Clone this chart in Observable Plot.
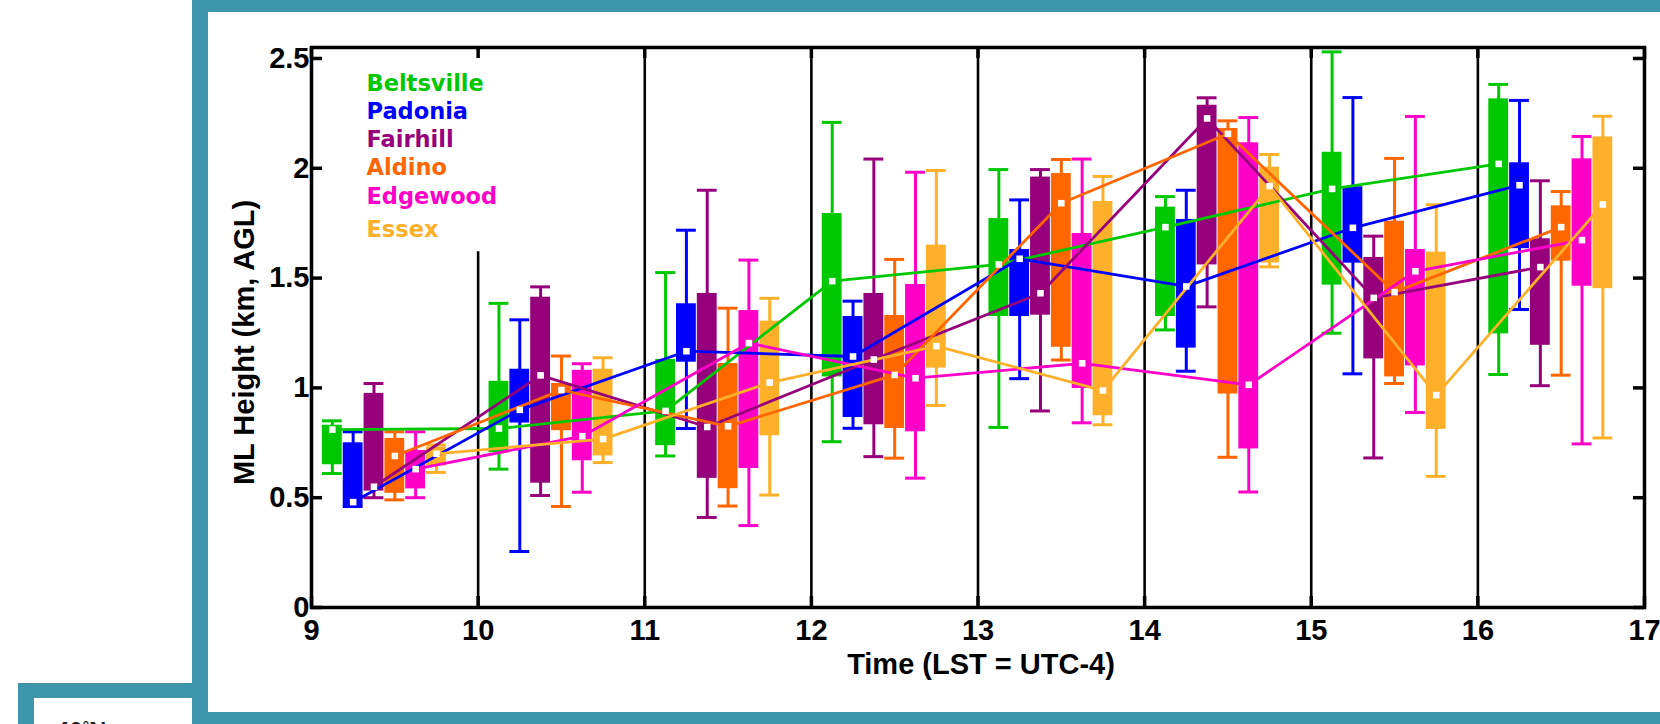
<!DOCTYPE html>
<html><head><meta charset="utf-8">
<script src="https://cdn.jsdelivr.net/npm/d3@7"></script>
<script src="https://cdn.jsdelivr.net/npm/@observablehq/plot@0.6"></script>
<style>
html,body{margin:0;padding:0;background:#fff;overflow:hidden;}
#wrap{position:relative;width:1660px;height:724px;overflow:hidden;}
.teal{position:absolute;background:#3e96ac;}
#lat{position:absolute;left:56px;top:719px;font:bold 24px 'Liberation Sans',Arial,sans-serif;line-height:1;color:#222;white-space:nowrap;}
#lat span{position:relative;top:-6px;font-size:16px;}
</style></head><body>
<div id="wrap"></div>
<script>
// ---- data ----
const sites = ["Beltsville","Padonia","Fairhill","Aldino","Edgewood","Essex"];
const siteColors = ["#00c800","#0000ff","#96007a","#ff6600","#ff00c8","#ffb02a"];
const hours = [9,10,11,12,13,14,15,16];
const xTicks = [9,10,11,12,13,14,15,16,17];
const yTicks = [0,0.5,1,1.5,2,2.5];
const dividers = [10,11,12,13,14,15,16];
const legendBottom = 1.62; // hour-10 divider stops under the legend

// rows = sites, columns = hours 9..16 (km AGL)
const whiskerLow = [
  [0.61,0.63,0.69,0.755,0.82,1.264,1.249,1.061],
  [0.46,0.255,0.815,0.816,1.042,1.076,1.064,1.357],
  [0.50,0.51,0.41,0.687,0.895,1.369,0.681,1.01],
  [0.49,0.46,0.462,0.68,1.127,0.684,1.02,1.058],
  [0.50,0.525,0.373,0.589,0.841,0.526,0.888,0.745],
  [0.615,0.66,0.512,0.92,0.832,1.551,0.597,0.772]
];
const quartile1 = [
  [0.65,0.705,0.737,1.05,1.325,1.325,1.468,1.246],
  [0.46,0.84,1.117,0.865,1.325,1.181,1.568,1.634],
  [0.53,0.566,0.588,0.832,1.331,1.56,1.132,1.194],
  [0.52,0.805,0.541,0.815,1.185,0.972,1.05,1.577],
  [0.54,0.668,0.633,0.80,0.997,0.722,1.10,1.463],
  [0.645,0.69,0.782,1.09,0.873,1.569,0.811,1.452]
];
const medians = [
  [0.81,0.815,0.895,1.486,1.562,1.732,1.906,2.02],
  [0.48,0.90,1.167,1.143,1.588,1.462,1.729,1.923],
  [0.55,1.057,0.822,1.129,1.431,2.227,1.41,1.55],
  [0.69,0.99,0.825,1.059,1.841,2.157,1.436,1.732],
  [0.63,0.78,1.204,1.044,1.112,1.014,1.531,1.673],
  [0.70,0.767,1.024,1.19,0.988,1.919,0.967,1.835]
];
const quartile3 = [
  [0.83,1.03,1.13,1.794,1.771,1.823,2.073,2.316],
  [0.75,1.085,1.383,1.325,1.63,1.767,1.916,2.025],
  [0.975,1.413,1.43,1.43,1.96,2.287,1.594,1.679],
  [0.77,1.02,1.111,1.33,1.976,2.181,1.759,1.829],
  [0.715,1.08,1.352,1.471,1.703,2.116,1.63,2.043],
  [0.73,1.085,1.304,1.65,1.849,2.005,1.618,2.143]
];
const whiskerHigh = [
  [0.85,1.385,1.525,2.209,1.994,1.871,2.53,2.382],
  [0.80,1.31,1.718,1.395,1.856,1.90,2.322,2.309],
  [1.02,1.46,1.90,2.042,1.994,2.321,1.691,1.943],
  [0.80,1.145,1.363,1.585,2.04,2.216,2.045,1.894],
  [0.80,1.11,1.582,1.982,2.042,2.231,2.236,2.145],
  [0.74,1.137,1.408,1.99,1.963,2.063,1.834,2.237]
];

// ---- layout constants ----
const slot = 0.125;       // hour fraction between adjacent site boxes
const half = slot / 2;
const W = 1660, H = 724;
const mL = 311, mR = 16, mT = 47, mB = 117;
const plotW = W - mL - mR, plotH = H - mT - mB;
const tickLen = 11;
const axisFont = "'Liberation Sans', Arial, Helvetica, sans-serif";

const rows = [];
sites.forEach((s, i) => hours.forEach((h, j) => rows.push({
  site: s, x: h + slot * (i + 1),
  lo: whiskerLow[i][j], q1: quartile1[i][j], med: medians[i][j],
  q3: quartile3[i][j], hi: whiskerHigh[i][j]
})));

const legendMarks = sites.map((s, i) => Plot.text([s], {
  text: d => d, frameAnchor: "top-left", dx: 55,
  dy: 43.3 + i * 28.2 + (i === 5 ? 5 : 0),
  lineAnchor: "bottom", textAnchor: "start",
  fill: siteColors[i], fontFamily: "'DejaVu Sans', sans-serif",
  fontSize: 22.5, fontWeight: "bold"
}));

const chart = Plot.plot({
  width: W, height: H,
  marginLeft: mL, marginRight: mR, marginTop: mT, marginBottom: mB,
  style: {fontFamily: axisFont, fontWeight: "bold", fontSize: "29px", color: "#000", background: "#fff", overflow: "visible"},
  x: {domain: [9, 17], ticks: xTicks, tickSize: 0, tickPadding: 12, tickFormat: d => String(d), label: null},
  y: {domain: [0, 2.55], ticks: yTicks, tickSize: 0, tickPadding: 2, tickFormat: d => String(d), label: null},
  color: {type: "ordinal", domain: sites, range: siteColors},
  marks: [
    Plot.ruleX(dividers, {x: d => d, y1: 0, y2: d => d === 10 ? legendBottom : 2.55, stroke: "#000", strokeWidth: 2.6}),
    Plot.ruleX(rows, {x: "x", y1: "lo", y2: "hi", stroke: "site", strokeWidth: 3}),
    Plot.ruleY(rows, {y: "lo", x1: d => d.x - half, x2: d => d.x + half, insetLeft: 0.5, insetRight: 0.5, stroke: "site", strokeWidth: 3}),
    Plot.ruleY(rows, {y: "hi", x1: d => d.x - half, x2: d => d.x + half, insetLeft: 0.5, insetRight: 0.5, stroke: "site", strokeWidth: 3}),
    Plot.rect(rows, {x1: d => d.x - half, x2: d => d.x + half, y1: "q1", y2: "q3", insetLeft: 0.5, insetRight: 0.5, fill: "site"}),
    Plot.line(rows, {x: "x", y: "med", z: "site", stroke: "site", strokeWidth: 2.8}),
    Plot.dot(rows, {x: "x", y: "med", symbol: "square", r: 3.7, fill: "#fff", stroke: null}),
    Plot.tickY(yTicks, {y: d => d, insetRight: plotW - tickLen, stroke: "#000", strokeWidth: 3.5}),
    Plot.tickY(yTicks, {y: d => d, insetLeft: plotW - tickLen, stroke: "#000", strokeWidth: 3.5}),
    Plot.tickX(xTicks, {x: d => d, insetTop: plotH - tickLen, stroke: "#000", strokeWidth: 3.5}),
    Plot.tickX(xTicks, {x: d => d, insetBottom: plotH - tickLen, stroke: "#000", strokeWidth: 3.5}),
    Plot.frame({stroke: "#000", strokeWidth: 3.5}),
    ...legendMarks,
    Plot.text(["Time (LST = UTC-4)"], {text: d => d, frameAnchor: "bottom", dx: 3, dy: 66, lineAnchor: "bottom", textAnchor: "middle", fontSize: 29, fontWeight: "bold", fill: "#000"}),
    Plot.text(["ML Height (km, AGL)"], {text: d => d, frameAnchor: "left", rotate: -90, dx: -58, dy: 15, lineAnchor: "bottom", textAnchor: "middle", fontSize: 29, fontWeight: "bold", fill: "#000"})
  ]
});

const wrap = document.getElementById("wrap");
chart.style.position = "absolute";
chart.style.left = "0px";
chart.style.top = "0px";
wrap.appendChild(chart);

// slide frame decoration
const bars = [
  [192, 0, 1468, 12],
  [192, 0, 16, 724],
  [192, 712, 1468, 12],
  [18, 683, 190, 15],
  [18, 683, 16, 41]
];
bars.forEach(([l, t, w, h]) => {
  const d = document.createElement("div");
  d.className = "teal";
  Object.assign(d.style, {left: l + "px", top: t + "px", width: w + "px", height: h + "px"});
  wrap.appendChild(d);
});
const lat = document.createElement("div");
lat.id = "lat";
lat.innerHTML = "40<span>°</span>N";
wrap.appendChild(lat);
</script>
</body></html>
